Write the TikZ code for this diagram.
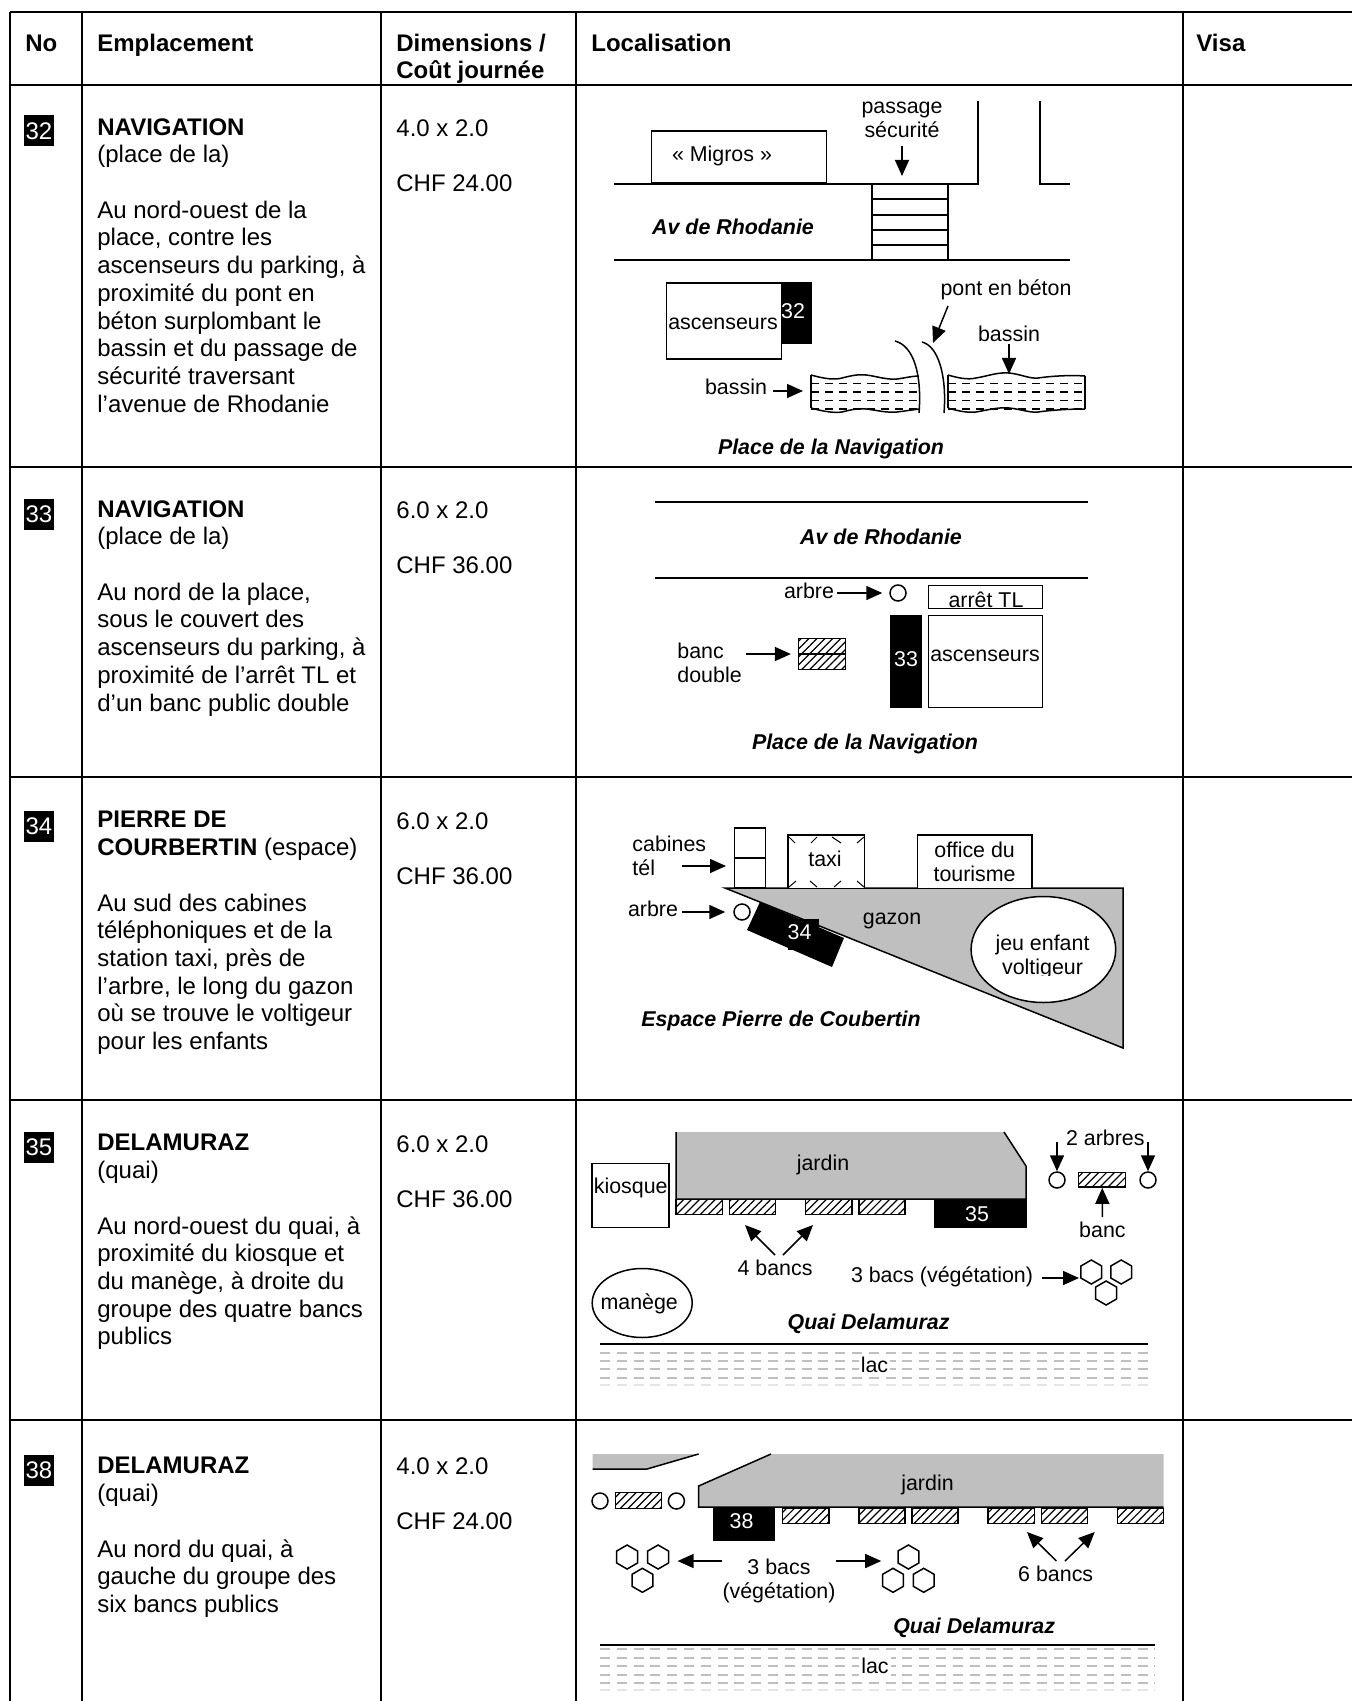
\documentclass[tikz,border=0pt]{standalone}
\usepackage{fontspec}
\setmainfont{Liberation Sans}
\usetikzlibrary{arrows.meta, shapes.geometric, patterns.meta}
\definecolor{gazon}{gray}{0.75}
\definecolor{eau}{gray}{0.75}

\begin{document}
\begin{tikzpicture}[x=.5pt,y=-.5pt]
  \tikzstyle{grille}=[line width=1pt]
  \tikzstyle{trait}=[line width=.75pt]
  \tikzstyle{fleche}=[line width=.75pt, -{Triangle[length=8pt,width=7pt]}]
  \tikzstyle{cellule}=[anchor=north west, inner sep=0pt, align=left, font=\fontsize{12}{13.85}\selectfont, execute at begin node=\strut]
  \tikzstyle{etiq}=[inner sep=0pt, align=center, font=\fontsize{10.7}{12}\selectfont]
  \tikzstyle{lieu}=[inner sep=0pt, font=\fontsize{10.7}{12}\selectfont\bfseries\itshape]
  \tikzstyle{numero}=[fill=black, text=white, inner sep=0pt, minimum width=15pt, minimum height=15.5pt, font=\fontsize{12}{14}\selectfont]
  \tikzstyle{emplace}=[fill=black, text=white, inner sep=0pt, font=\fontsize{10.7}{12}\selectfont]
  \tikzstyle{boite}=[draw, line width=.75pt, inner sep=0pt]
  \tikzstyle{arbre}=[circle, draw, line width=.75pt, inner sep=0pt, minimum size=8pt]
  \tikzstyle{banc}=[draw, line width=.75pt, inner sep=0pt, minimum width=23.1pt, minimum height=7.4pt, pattern={Lines[angle=45,distance=2.8pt,line width=.6pt]}]
  \tikzstyle{bac}=[regular polygon, regular polygon sides=6, shape border rotate=30, draw, line width=.75pt, inner sep=0pt, minimum size=12pt]
  \tikzstyle{lacdash}=[eau, line width=.7pt, dash pattern=on 5pt off 3.4pt]
  \tikzstyle{eautrait}=[line width=.4pt, dash pattern=on 4pt off 3pt]
  \tikzstyle{eaugras}=[line width=.75pt, dash pattern=on 4pt off 3pt]

  \useasboundingbox (0,0) rectangle (1352,1701);
  \fill[white] (0,0) rectangle (1352,1701);

  \draw[grille] (10,12) -- (1352,12);
  \draw[grille] (10,85) -- (1352,85);
  \draw[grille] (10,467) -- (1352,467);
  \draw[grille] (10,777) -- (1352,777);
  \draw[grille] (10,1100) -- (1352,1100);
  \draw[grille] (10,1420) -- (1352,1420);
  \foreach \x in {10,82,381,576,1183}
    \draw[grille] (\x,12) -- (\x,1701);

  \node[cellule] (H_no) at (25,32) {\textbf{No}};
  \node[cellule] (H_empl) at (97,32) {\textbf{Emplacement}};
  \node[cellule] (H_dim) at (396,33.5) {\textbf{Dimensions /}\\\textbf{Coût journée}};
  \node[cellule] (H_loc) at (591,32) {\textbf{Localisation}};
  \node[cellule] (H_visa) at (1196,32) {\textbf{Visa}};

  \node[numero] (N_32) at (39,131) {32};
  \node[numero] (N_33) at (39,514) {33};
  \node[numero] (N_34) at (39,826) {34};
  \node[numero] (N_35) at (39,1147) {35};
  \node[numero] (N_38) at (39,1470) {38};

  \node[cellule] (E_32) at (97,118) {\textbf{NAVIGATION}\\(place de la)\\[13.85pt]Au nord-ouest de la\\place, contre les\\ascenseurs du parking, à\\proximité du pont en\\béton surplombant le\\bassin et du passage de\\sécurité traversant\\l’avenue de Rhodanie};
  \node[cellule] (E_33) at (97,500) {\textbf{NAVIGATION}\\(place de la)\\[13.85pt]Au nord de la place,\\sous le couvert des\\ascenseurs du parking, à\\proximité de l’arrêt TL et\\d’un banc public double};
  \node[cellule] (E_34) at (97,811) {\textbf{PIERRE DE}\\\textbf{COURBERTIN} (espace)\\[13.85pt]Au sud des cabines\\téléphoniques et de la\\station taxi, près de\\l’arbre, le long du gazon\\où se trouve le voltigeur\\pour les enfants};
  \node[cellule] (E_35) at (97,1134) {\textbf{DELAMURAZ}\\(quai)\\[13.85pt]Au nord-ouest du quai, à\\proximité du kiosque et\\du manège, à droite du\\groupe des quatre bancs\\publics};
  \node[cellule] (E_38) at (97,1457) {\textbf{DELAMURAZ}\\(quai)\\[13.85pt]Au nord du quai, à\\gauche du groupe des\\six bancs publics};

  \node[cellule] (D_32) at (396,119) {4.0 x 2.0\\[13.85pt]CHF 24.00};
  \node[cellule] (D_33) at (396,501) {6.0 x 2.0\\[13.85pt]CHF 36.00};
  \node[cellule] (D_34) at (396,812) {6.0 x 2.0\\[13.85pt]CHF 36.00};
  \node[cellule] (D_35) at (396,1135) {6.0 x 2.0\\[13.85pt]CHF 36.00};
  \node[cellule] (D_38) at (396,1457) {4.0 x 2.0\\[13.85pt]CHF 24.00};

  \draw[trait] (614,184) -- (978,184) -- (978,101);
  \draw[trait] (1040,101) -- (1040,184) -- (1070,184);
  \draw[trait] (614,260) -- (1070,260);
  \node[boite, fill=white, minimum width=87.6pt, minimum height=26pt] (migros) at (739,157) {};
  \node[etiq] (migros_t) at (722,156) {« Migros »};
  \node[boite, minimum width=37.9pt, minimum height=38pt] (passage) at (910,222) {};
  \foreach \y in {199,215,230,245}
    \draw[trait] (872,\y) -- (948,\y);
  \node[etiq] (passage_t) at (902,120) {passage\\sécurité};
  \coordinate (passage_a) at (902,146);
  \coordinate (passage_b) at (902,176);
  \draw[fleche] (passage_a) -- (passage_b);
  \node[lieu] (rhodanie_32) at (733,227) {Av de Rhodanie};
  \node[emplace, minimum width=15.9pt, minimum height=31pt] (P_32) at (796,313) {};
  \node[boite, fill=white, minimum width=57.3pt, minimum height=38pt] (asc_32) at (724,321) {};
  \node[etiq, text=white] (P_32t) at (793,311) {32};
  \node[etiq] (asc_32t) at (723,324) {ascenseurs};
  \node[etiq] (pont_t) at (1006,290) {pont en béton};
  \coordinate (pont_a) at (948,306);
  \coordinate (pont_b) at (933,343);
  \draw[fleche] (pont_a) -- (pont_b);
  \node[etiq] (bassin_1) at (1009,334) {bassin};
  \coordinate (bassin_1a) at (1009,344);
  \coordinate (bassin_1b) at (1009,374);
  \draw[fleche] (bassin_1a) -- (bassin_1b);
  \node[etiq] (bassin_2) at (736,387) {bassin};
  \coordinate (bassin_2a) at (773,391);
  \coordinate (bassin_2b) at (803,391);
  \draw[fleche] (bassin_2a) -- (bassin_2b);
  \draw[trait] (811,375) -- (811,408);
  \draw[trait] (811,375) .. controls (825,379) and (835,380) .. (842,378) .. controls (850,376) and (858,374) .. (866,375) .. controls (876,376) and (886,380) .. (897,379) .. controls (905,378) and (912,376) .. (919,376);
  \draw[trait] (811,408) .. controls (825,412) and (835,413) .. (842,412) .. controls (850,410) and (858,408) .. (866,409) .. controls (876,410) and (886,413) .. (897,412) .. controls (905,411) and (912,410) .. (919,409);
  \foreach \y in {383,400}
    \draw[eautrait] (811,\y) -- (919,\y);
  \foreach \y in {392,409}
    \draw[eaugras] (811,\y) -- (919,\y);
  \draw[trait] (948,375) -- (948,408);
  \draw[trait] (1085,376) -- (1085,409);
  \draw[trait] (948,375) .. controls (958,378) and (968,380) .. (976,378) .. controls (988,376) and (998,372) .. (1009,373) .. controls (1020,374) and (1030,379) .. (1038,378) .. controls (1052,376) and (1070,375) .. (1085,376);
  \draw[trait] (948,408) .. controls (958,411) and (968,413) .. (976,412) .. controls (988,410) and (998,407) .. (1009,408) .. controls (1020,409) and (1030,413) .. (1038,412) .. controls (1052,410) and (1070,409) .. (1085,409);
  \foreach \y in {383,400}
    \draw[eautrait] (948,\y) -- (1085,\y);
  \foreach \y in {392,409}
    \draw[eaugras] (948,\y) -- (1085,\y);
  \draw[trait] (895,341) .. controls (914,346) and (922,375) .. (919,413);
  \draw[trait] (922,342) .. controls (938,346) and (947,375) .. (944,413);
  \node[lieu] (place_32) at (831,449) {Place de la Navigation};

  \draw[trait] (655,502) -- (1088,502);
  \draw[trait] (655,578) -- (1088,578);
  \node[lieu] (rhodanie_33) at (881,537) {Av de Rhodanie};
  \node[etiq] (arbre_33t) at (809,591) {arbre};
  \coordinate (arbre_33a) at (837,593);
  \node[arbre] (arbre_33) at (898,593) {};
  \draw[fleche, shorten >=3.5pt] (arbre_33a) -- (arbre_33);
  \node[boite, minimum width=57pt, minimum height=11.5pt] (arret) at (985.5,597) {};
  \node[etiq] (arret_t) at (986,600) {arrêt TL};
  \node[boite, minimum width=57pt, minimum height=46pt] (asc_33) at (985.5,661.5) {};
  \node[etiq] (asc_33t) at (985,656) {ascenseurs};
  \node[emplace, minimum width=16pt, minimum height=46.5pt] (P_33) at (905.5,661.5) {};
  \node[etiq, text=white] (P_33t) at (906,659) {33};
  \node[etiq, align=left, anchor=west] (banc_33t) at (677,663) {banc\\double};
  \coordinate (banc_33a) at (746,654);
  \node[banc, minimum width=23.5pt, minimum height=15.5pt] (banc_33) at (822,654) {};
  \draw[trait] (799,654) -- (846,654);
  \draw[fleche, shorten >=3.5pt] (banc_33a) -- (banc_33);
  \node[lieu] (place_33) at (865,744) {Place de la Navigation};

  \fill[gazon] (725,888) -- (1123,888) -- (1123,1048) -- cycle;
  \draw[trait] (725,888) -- (1123,888) -- (1123,1048) -- cycle;
  \node[etiq, align=left, anchor=west] (cabines_t) at (632,856) {cabines\\tél};
  \coordinate (cabines_a) at (682,866);
  \coordinate (cabines_b) at (726,866);
  \draw[fleche] (cabines_a) -- (cabines_b);
  \node[boite, fill=white, minimum width=15.5pt, minimum height=30.2pt] (cabine) at (750,858) {};
  \draw[trait] (735,858) -- (766,858);
  \node[boite, fill=white, minimum width=38.2pt, minimum height=26.6pt] (taxi) at (826.4,861.7) {};
  \foreach \x/\y/\u/\v in {789/837/795/843, 817/837/811/843, 832/837/841/843, 864/837/857/843, 789/887/796/881, 817/887/810/881, 834/887/841/881, 864/887/857/881}
    \draw[line width=.5pt] (\x,\y) -- (\u,\v);
  \node[etiq] (taxi_t) at (825,859) {taxi};
  \node[boite, fill=white, minimum width=57.2pt, minimum height=26.6pt] (office) at (974.6,861.7) {};
  \node[etiq] (office_t) at (974.6,861.5) {office du\\tourisme};
  \node[etiq] (arbre_34t) at (653,909) {arbre};
  \coordinate (arbre_34a) at (682,912);
  \node[arbre] (arbre_34) at (742,912) {};
  \draw[fleche, shorten >=4pt] (arbre_34a) -- (arbre_34);
  \fill (760,902) -- (844,938) -- (832,967) -- (747,930) -- cycle;
  \node[emplace, minimum width=15.2pt, minimum height=15.5pt] (P_34) at (803.4,934.5) {};
  \node[etiq, text=white] (P_34t) at (799.6,932) {34};
  \node[etiq] (gazon_t) at (892,921) {gazon};
  \node[boite, ellipse, fill=white, minimum width=72.3pt, minimum height=53pt] (jeu) at (1043.4,949.5) {};
  \begin{scope}
    \clip (980,925) rectangle (1110,975);
    \node[etiq] (jeu_t) at (1042.5,957) {jeu enfant\\voltigeur};
  \end{scope}
  \node[lieu] (espace) at (781,1021) {Espace Pierre de Coubertin};

  \fill[gazon] (676,1132) -- (1004,1132) -- (1026,1166) -- (1026,1199) -- (676,1199) -- cycle;
  \draw[trait] (676,1132) -- (676,1199) -- (1026,1199) -- (1026,1166) -- (1004,1132);
  \node[boite, minimum width=38.5pt, minimum height=32.2pt] (kiosque) at (630.7,1195.5) {};
  \node[etiq] (kiosque_t) at (630.7,1188) {kiosque};
  \node[etiq] (jardin_35) at (823,1165) {jardin};
  \foreach \x [count=\i] in {699.3,752.6,828.8,882.1}
    \node[banc] (B_35\i) at (\x,1207) {};
  \node[emplace, minimum width=46.2pt, minimum height=14.2pt] (P_35) at (980.3,1214) {};
  \node[etiq, text=white] (P_35t) at (977,1214) {35};
  \node[etiq] (bancs_35) at (775,1268) {4 bancs};
  \coordinate (bancs_35a) at (775,1255);
  \coordinate (bancs_35b) at (745,1225);
  \coordinate (bancs_35c) at (783,1255);
  \coordinate (bancs_35d) at (813,1225);
  \draw[fleche] (bancs_35a) -- (bancs_35b);
  \draw[fleche] (bancs_35c) -- (bancs_35d);
  \node[etiq] (bacs_35) at (942,1277) {3 bacs (végétation)};
  \coordinate (bacs_35a) at (1042,1278);
  \coordinate (bacs_35b) at (1079,1278);
  \node[bac] (H_351) at (1091.3,1272) {};
  \node[bac] (H_352) at (1121.2,1272) {};
  \node[bac] (H_353) at (1106.1,1293) {};
  \draw[fleche] (bacs_35a) -- (bacs_35b);
  \node[boite, ellipse, minimum width=50pt, minimum height=34.5pt] (manege) at (642.2,1303) {};
  \node[etiq] (manege_t) at (639.2,1304) {manège};
  \node[etiq] (arbres_t) at (1105.3,1138) {2 arbres};
  \coordinate (arbres_a) at (1057,1142);
  \coordinate (arbres_b) at (1148,1142);
  \node[arbre] (arbre_351) at (1057,1180) {};
  \node[arbre] (arbre_352) at (1148,1180) {};
  \draw[fleche] (arbres_a) -- (arbre_351);
  \draw[fleche] (arbres_b) -- (arbre_352);
  \node[banc, minimum width=23.5pt] (banc_35) at (1102.2,1179.7) {};
  \node[etiq] (banc_35t) at (1102.4,1230) {banc};
  \coordinate (banc_35a) at (1102.4,1217);
  \draw[fleche] (banc_35a) -- (banc_35);
  \node[lieu] (quai_35) at (868.6,1324) {Quai Delamuraz};
  \draw[trait] (600,1344) -- (1148,1344);
  \foreach \y in {1353,1361,1369,1378}
    \draw[lacdash] (600,\y) -- (1148,\y);
  \draw[lacdash, eau!40] (600,1385) -- (1148,1385);
  \node[etiq, fill=white, inner sep=1pt] (lac_35) at (874.5,1365) {lac};

  \fill[gazon] (592.6,1454) -- (698.6,1454) -- (647,1469) -- (592.6,1469) -- cycle;
  \draw[trait] (592.6,1469) -- (647,1469) -- (698.6,1454);
  \fill[gazon] (771,1454) -- (1163.6,1454) -- (1163.6,1507) -- (698.6,1507) -- (698.6,1486) -- cycle;
  \draw[trait] (771,1454) -- (698.6,1486) -- (698.6,1507) -- (1163.6,1507);
  \node[etiq] (jardin_38) at (927.5,1485) {jardin};
  \node[arbre] (arbre_381) at (600,1501) {};
  \node[arbre] (arbre_382) at (676.4,1501) {};
  \node[banc, minimum height=8pt] (banc_38) at (638.6,1500.3) {};
  \node[emplace, minimum width=31.2pt, minimum height=16.2pt] (P_38) at (744,1524.5) {};
  \node[etiq, text=white] (P_38t) at (741.5,1521) {38};
  \foreach \x [count=\i] in {805.8,882,935,1011.3,1064.5,1140.5}
    \node[banc] (B_38\i) at (\x,1516) {};
  \node[etiq] (bancs_38) at (1055.7,1574) {6 bancs};
  \coordinate (bancs_38a) at (1056.4,1561);
  \coordinate (bancs_38b) at (1027,1532);
  \coordinate (bancs_38c) at (1065,1561);
  \coordinate (bancs_38d) at (1094.7,1532);
  \draw[fleche] (bancs_38a) -- (bancs_38b);
  \draw[fleche] (bancs_38c) -- (bancs_38d);
  \node[etiq] (bacs_38) at (779,1580.5) {3 bacs\\(végétation)};
  \coordinate (bacs_38a) at (721.6,1561);
  \coordinate (bacs_38b) at (677.6,1561);
  \coordinate (bacs_38c) at (836.4,1561);
  \coordinate (bacs_38d) at (881.2,1561);
  \draw[fleche] (bacs_38a) -- (bacs_38b);
  \draw[fleche] (bacs_38c) -- (bacs_38d);
  \foreach \x/\y [count=\i] in {627.1/1557,658.1/1557,642.4/1580.3,908.4/1557,893/1580.3,923.7/1580.3}
    \node[bac] (H_38\i) at (\x,\y) {};
  \node[lieu] (quai_38) at (974.2,1628) {Quai Delamuraz};
  \draw[trait] (600,1645) -- (1155,1645);
  \foreach \y in {1649,1658,1666,1675,1683}
    \draw[lacdash] (600,\y) -- (1155,\y);
  \draw[lacdash, eau!40] (600,1690) -- (1155,1690);
  \node[etiq, fill=white, inner sep=1pt] (lac_38) at (875,1666) {lac};
\end{tikzpicture}
\end{document}
